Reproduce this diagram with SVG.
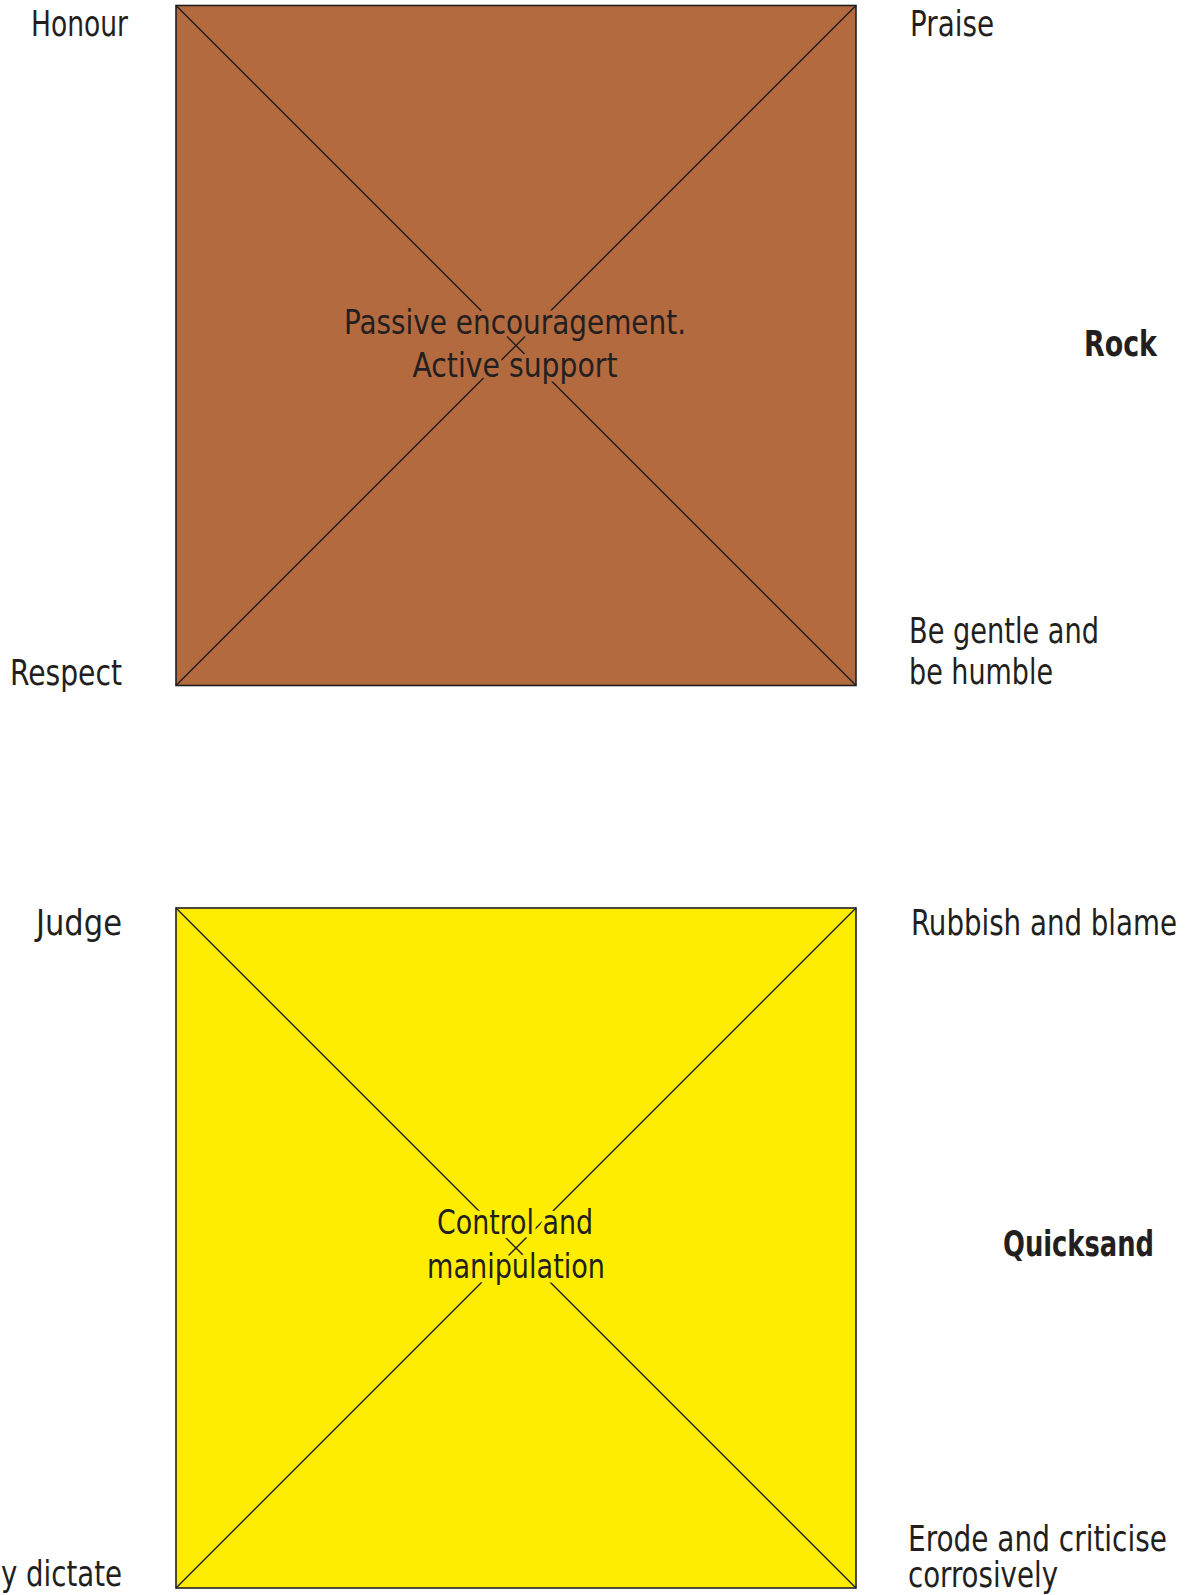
<svg xmlns="http://www.w3.org/2000/svg" width="1195" height="1595" viewBox="0 0 1195 1595">
  <style>
    text { font-family: "Liberation Sans Narrow", "DejaVu Sans Condensed", "Liberation Sans", sans-serif; fill: #231f20; font-size: 36px; }
    .bold { font-weight: bold; }
    .mid { font-size: 34px; text-anchor: middle; paint-order: stroke; stroke-width: 9px; stroke-linejoin: round; }
    .rock-halo { stroke: #b36a3f; }
    .sand-halo { stroke: #ffed00; }
    .box { stroke: #231f20; stroke-width: 1.6; }
    .diag { stroke: #231f20; stroke-width: 1.4; fill: none; }
  </style>

  <!-- Rock square -->
  <g id="rock">
    <rect class="box" x="176" y="5.5" width="680" height="680" fill="#b36a3f"/>
    <g class="diag">
      <line x1="176" y1="5.5" x2="856" y2="685.5"/>
      <line x1="856" y1="5.5" x2="176" y2="685.5"/>
    </g>
    <text class="mid rock-halo" x="515" y="334" textLength="342" lengthAdjust="spacingAndGlyphs">Passive encouragement.</text>
    <text class="mid rock-halo" x="515" y="377" textLength="205" lengthAdjust="spacingAndGlyphs">Active support</text>
  </g>

  <!-- Quicksand square -->
  <g id="quicksand">
    <rect class="box" x="176" y="908" width="680" height="680" fill="#ffed00"/>
    <g class="diag">
      <line x1="176" y1="908" x2="856" y2="1588"/>
      <line x1="856" y1="908" x2="176" y2="1588"/>
    </g>
    <text class="mid sand-halo" x="515" y="1234" textLength="156" lengthAdjust="spacingAndGlyphs">Control and</text>
    <text class="mid sand-halo" x="516" y="1278" textLength="178" lengthAdjust="spacingAndGlyphs">manipulation</text>
  </g>

  <!-- Corner labels, Rock -->
  <g id="rock-labels">
    <text id="honour" x="31" y="36" textLength="97" lengthAdjust="spacingAndGlyphs">Honour</text>
    <text id="praise" x="910" y="36" textLength="84" lengthAdjust="spacingAndGlyphs">Praise</text>
    <text id="respect" x="10" y="685" textLength="112" lengthAdjust="spacingAndGlyphs">Respect</text>
    <text id="gentle" x="909" y="643">
      <tspan x="909" y="643" textLength="190" lengthAdjust="spacingAndGlyphs">Be gentle and</tspan>
      <tspan x="909" y="684" textLength="144" lengthAdjust="spacingAndGlyphs">be humble</tspan>
    </text>
    <text id="rock-title" class="bold" x="1084" y="356" textLength="73" lengthAdjust="spacingAndGlyphs">Rock</text>
  </g>

  <!-- Corner labels, Quicksand -->
  <g id="quicksand-labels">
    <text id="judge" x="36" y="935" textLength="86" lengthAdjust="spacingAndGlyphs">Judge</text>
    <text id="rubbish" x="911" y="935" textLength="266" lengthAdjust="spacingAndGlyphs">Rubbish and blame</text>
    <text id="dictate" x="1" y="1586" textLength="121" lengthAdjust="spacingAndGlyphs">y dictate</text>
    <text id="erode" x="908" y="1551">
      <tspan x="908" y="1551" textLength="259" lengthAdjust="spacingAndGlyphs">Erode and criticise</tspan>
      <tspan x="908" y="1587" textLength="150" lengthAdjust="spacingAndGlyphs">corrosively</tspan>
    </text>
    <text id="quicksand-title" class="bold" x="1003" y="1256" textLength="151" lengthAdjust="spacingAndGlyphs">Quicksand</text>
  </g>
</svg>
